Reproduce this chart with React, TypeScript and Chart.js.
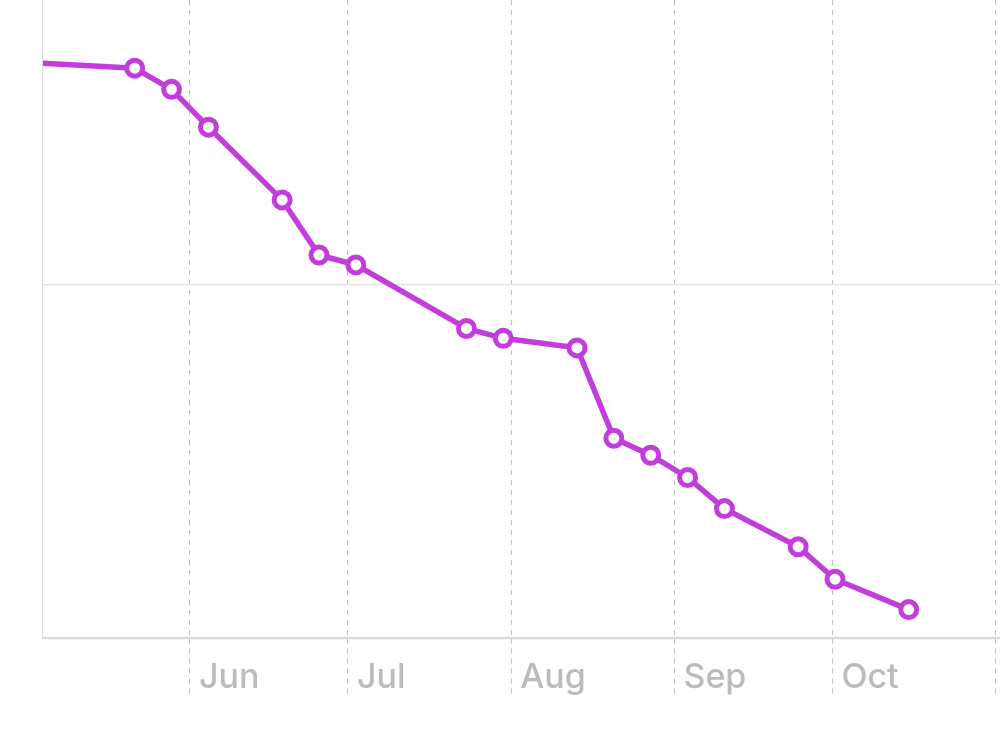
import React, { useEffect, useRef } from 'react';
import { Chart, registerables } from 'chart.js';

Chart.register(...registerables);

// Weekly measurements (timestamps at noon UTC)
const pointDates: string[] = [
  '2023-04-23', '2023-05-21', '2023-05-28', '2023-06-04', '2023-06-18', '2023-06-25',
  '2023-07-02', '2023-07-23', '2023-07-30', '2023-08-13', '2023-08-20', '2023-08-27',
  '2023-09-03', '2023-09-10', '2023-09-24', '2023-10-01', '2023-10-15',
];
const pointValues: number[] = [
  16.36, 16.14, 15.54, 14.47, 12.41, 10.85,
  10.57, 8.77, 8.49, 8.22, 5.66, 5.18,
  4.55, 3.67, 2.59, 1.67, 0.81,
];

// Month tick marks on the x axis
const monthTickDates: string[] = ['2023-06-01', '2023-07-01', '2023-08-01', '2023-09-01', '2023-10-01', '2023-11-01'];
const monthTickLabels: string[] = ['Jun', 'Jul', 'Aug', 'Sep', 'Oct', ''];

// Visible range
const xRangeStart = '2023-05-04T02:00:00Z';
const xRangeEnd = '2023-11-01T20:00:00Z';
const yTickValues: number[] = [0, 10];
const yMin = 0;
const yMax = 18.07;

const LINE_COLOR = '#c23ddb';

const toTime = (d: string) => Date.parse(d.length === 10 ? d + 'T12:00:00Z' : d);
const toMidnight = (d: string) => Date.parse(d + 'T00:00:00Z');

export default function App() {
  const canvasRef = useRef<HTMLCanvasElement | null>(null);

  useEffect(() => {
    const canvas = canvasRef.current;
    if (!canvas) return;
    const data = pointDates.map((d, i) => ({ x: toTime(d), y: pointValues[i] }));
    const xTicks = monthTickDates.map(toMidnight);

    const chart = new Chart(canvas, {
      type: 'line',
      data: {
        datasets: [
          {
            data,
            borderColor: LINE_COLOR,
            borderWidth: 5.5,
            pointRadius: 8,
            pointHoverRadius: 8,
            pointBorderWidth: 5,
            pointBackgroundColor: '#ffffff',
            pointBorderColor: LINE_COLOR,
            tension: 0,
            clip: 0,
          },
        ],
      },
      options: {
        animation: false,
        responsive: true,
        maintainAspectRatio: false,
        layout: { autoPadding: false, padding: { left: 43, right: 0, top: 0, bottom: 17 } },
        plugins: { legend: { display: false }, tooltip: { enabled: false } },
        scales: {
          x: {
            type: 'linear',
            min: toTime(xRangeStart),
            max: toTime(xRangeEnd),
            afterBuildTicks: (scale: any) => {
              scale.ticks = xTicks.map((v) => ({ value: v }));
            },
            ticks: {
              autoSkip: false,
              maxRotation: 0,
              minRotation: 0,
              align: 'start',
              labelOffset: 9,
              padding: -38,
              color: '#bcbcbc',
              font: { family: 'Inter', size: 34, weight: '500' },
              callback: (_v: any, i: number) => monthTickLabels[i],
            },
            title: { display: true, text: '', padding: { top: 40, bottom: 0 }, font: { size: 10 } },
            grid: {
              color: '#c2c2c2',
              lineWidth: 1,
              tickLength: 57,
              tickColor: '#c2c2c2',
              tickBorderDash: [5, 5],
            },
            border: { display: true, color: '#d6d6d6', width: 1.5, dash: [5, 5] },
          },
          y: {
            min: yMin,
            max: yMax,
            afterBuildTicks: (scale: any) => {
              scale.ticks = yTickValues.map((v) => ({ value: v }));
            },
            ticks: { display: false },
            grid: { color: '#e0e0e0', lineWidth: 1.2, drawTicks: false },
            border: { display: true, color: '#dcdcdc', width: 1.2 },
          },
        },
      },
    } as any);

    return () => chart.destroy();
  }, []);

  return (
    <div style={{ position: 'absolute', left: 0, top: 0, width: 1000, height: 729, background: '#fff' }}>
      <canvas ref={canvasRef} />
    </div>
  );
}
